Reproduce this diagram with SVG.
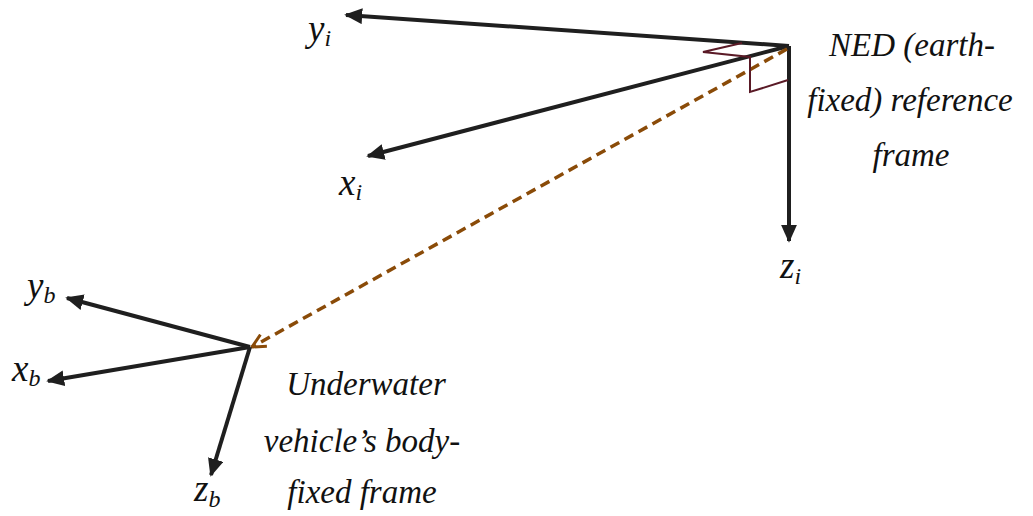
<svg xmlns="http://www.w3.org/2000/svg" width="1033" height="516" viewBox="0 0 1033 516">
<defs>
<style>
.ax{stroke:#1f1f1f;stroke-width:4;fill:none;marker-end:url(#ah)}
.lbl{font-family:"Liberation Serif","DejaVu Serif",serif;font-style:italic;font-size:33px;fill:#111;text-anchor:middle}
.m{font-family:"Liberation Serif","DejaVu Serif",serif;font-style:italic;font-size:37px;fill:#111}
.s{font-size:24px}
</style>
<marker id="ah" viewBox="0 0 10 10" refX="9" refY="5" markerWidth="18" markerHeight="16" markerUnits="userSpaceOnUse" orient="auto" preserveAspectRatio="none">
<path d="M0,0 L10,5 L0,10 z" fill="#1f1f1f"/>
</marker>
<marker id="oh" viewBox="0 0 12 12" refX="11" refY="6" markerWidth="16" markerHeight="16" markerUnits="userSpaceOnUse" orient="auto">
<path d="M1,1 L11,6 L1,11" fill="none" stroke="#8a4b08" stroke-width="2.2"/>
</marker>
</defs>
<rect width="1033" height="516" fill="#fff"/>
<g id="connectors">
<line class="ax" x1="789" y1="46" x2="346" y2="15"/>
<line class="ax" x1="789" y1="46" x2="368" y2="156"/>
<line class="ax" x1="789" y1="46" x2="789" y2="241"/>
<line x1="787" y1="49" x2="252" y2="347" stroke="#8a4b08" stroke-width="3.5" stroke-dasharray="10,6" marker-end="url(#oh)"/>
<line class="ax" x1="250" y1="347" x2="67" y2="298"/>
<line class="ax" x1="250" y1="347" x2="48" y2="381"/>
<line class="ax" x1="250" y1="347" x2="211" y2="475"/>
<polyline points="742,43 703,52 750,57 750,92 788,80" fill="none" stroke="#5a1a26" stroke-width="2"/>
</g>
<g id="ned">
<text class="lbl" x="912" y="56">NED (earth-</text>
<text class="lbl" x="910" y="111">fixed) reference</text>
<text class="lbl" x="911" y="166">frame</text>
</g>
<g id="body">
<text class="lbl" x="366" y="395">Underwater</text>
<text class="lbl" x="362" y="452">vehicle’s body-</text>
<text class="lbl" x="362" y="503">fixed frame</text>
</g>
<g id="labels">
<text class="m" x="308" y="41">y<tspan class="s" dy="5">i</tspan></text>
<text class="m" x="339" y="195">x<tspan class="s" dy="5">i</tspan></text>
<text class="m" x="780" y="278">z<tspan class="s" dy="6">i</tspan></text>
<text class="m" x="27" y="298">y<tspan class="s" dy="5">b</tspan></text>
<text class="m" x="12" y="381">x<tspan class="s" dy="5">b</tspan></text>
<text class="m" x="194" y="501">z<tspan class="s" dy="6">b</tspan></text>
</g>
</svg>
